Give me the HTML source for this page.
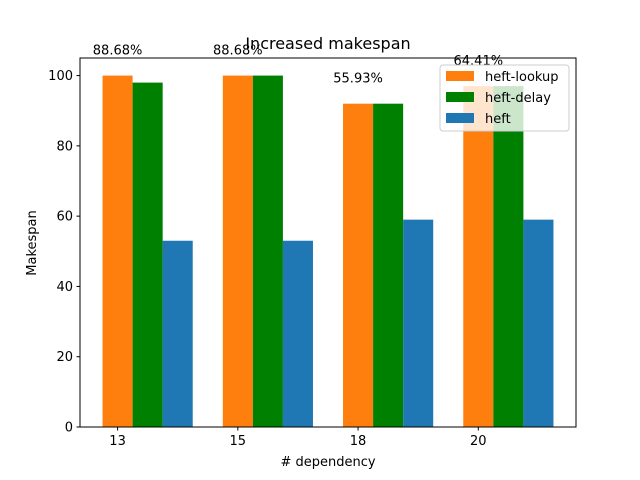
<!DOCTYPE html>
<html><head><meta charset="utf-8"><style>body{margin:0;background:#fff}svg{display:block;font-family:"DejaVu Sans","Liberation Sans",sans-serif}</style></head>
<body>
<svg id="c" width="640" height="480"></svg>
<script>
const categories=["13","15","18","20"];
const lookupValues=[100,100,92,97];
const delayValues=[98,100,92,97];
const heftValues=[53,53,59,59];
const pctLabels=["88.68%","88.68%","55.93%","64.41%"];
const yTicks=[0,20,40,60,80,100];
const svg=document.getElementById('c');const NS='http://www.w3.org/2000/svg';
const L=80,R=576,T=58,B=427;const x0=-0.3125,x1=3.8125,yMax=105;
const X=v=>L+(v-x0)/(x1-x0)*(R-L);const Y=v=>B-v/yMax*(B-T);
function el(t,a,p){const e=document.createElementNS(NS,t);for(const k in a)e.setAttribute(k,a[k]);(p||svg).appendChild(e);return e;}
const series=[[lookupValues,'#ff7f0e','heft-lookup',0],[delayValues,'#008000','heft-delay',0.25],[heftValues,'#1f77b4','heft',0.5]];
series.forEach(s=>{s[0].forEach((v,i)=>{const r=el('rect',{x:X(i+s[3]-0.125),y:Y(v),width:X(0.25)-X(0),height:Y(0)-Y(v),fill:s[1]});

});});
pctLabels.forEach((t,i)=>{const e=el('text',{x:X(i),y:Y(lookupValues[i])-21,'text-anchor':'middle','font-size':13});e.textContent=t;

});
el('rect',{x:L,y:T,width:R-L,height:B-T,fill:'none',stroke:'#000','stroke-width':1,});
yTicks.forEach(v=>{el('line',{x1:L-3.5,x2:L,y1:Y(v),y2:Y(v),stroke:'#000'});const e=el('text',{x:L-7,y:Y(v)+4.5,'text-anchor':'end','font-size':13});e.textContent=v;

});
categories.forEach((c,i)=>{el('line',{x1:X(i),x2:X(i),y1:B,y2:B+3.5,stroke:'#000'});const e=el('text',{x:X(i),y:B+18,'text-anchor':'middle','font-size':13});e.textContent=c;

});
let e=el('text',{x:328,y:466,'text-anchor':'middle','font-size':13,});e.textContent='# dependency';
e=el('text',{x:0,y:0,'text-anchor':'middle','font-size':13,transform:'translate(36,243) rotate(-90)',});e.textContent='Makespan';
e=el('text',{x:328,y:49,'text-anchor':'middle','font-size':16,});e.textContent='Increased makespan';
const lg=el('g',{});
el('rect',{x:440,y:65,width:129,height:66,rx:3,fill:'#fff','fill-opacity':0.8,stroke:'#ccc'},lg);
series.forEach((s,i)=>{el('rect',{x:446,y:71+i*21,width:28,height:10,fill:s[1]},lg);const t=el('text',{x:485,y:81+i*21,'font-size':13},lg);t.textContent=s[2];

});
</script>
</body></html>
